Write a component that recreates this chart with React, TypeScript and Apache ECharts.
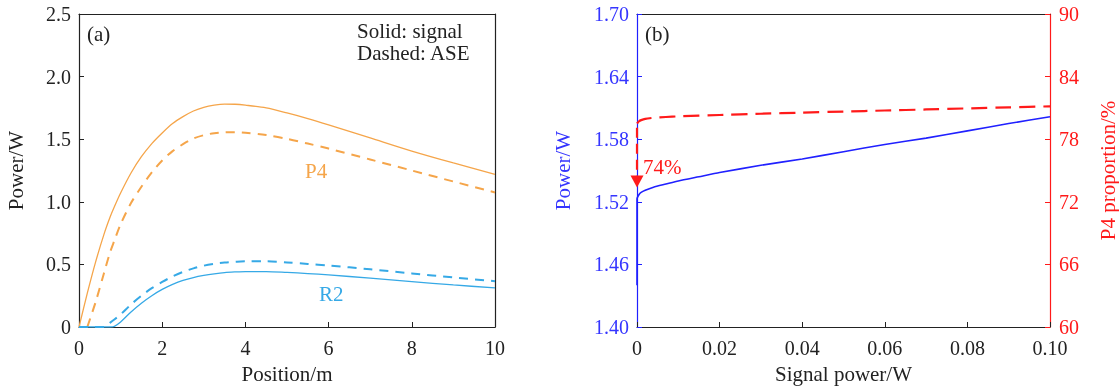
import React, { useEffect, useRef } from "react";
import * as echarts from "echarts";

// ---- Panel (a): power along fiber position ----
const positions = [0, 0.2, 0.4, 0.6, 0.75, 0.85, 1, 1.25, 1.5, 1.75, 2, 2.25, 2.5, 2.75, 3, 3.25, 3.5, 3.75, 4, 4.5, 5, 5.5, 6, 7, 8, 9, 10];
const p4Signal = [0, 0.27, 0.52, 0.74, 0.88, 0.96, 1.07, 1.23, 1.36, 1.465, 1.55, 1.625, 1.68, 1.725, 1.755, 1.772, 1.78, 1.779, 1.772, 1.75, 1.71, 1.665, 1.615, 1.51, 1.405, 1.31, 1.22];
const p4ASE = [null, 0, 0.2, 0.43, 0.6, 0.69, 0.82, 0.99, 1.12, 1.235, 1.33, 1.405, 1.46, 1.505, 1.532, 1.548, 1.555, 1.556, 1.551, 1.533, 1.503, 1.465, 1.425, 1.338, 1.25, 1.162, 1.075];
const r2Signal = [0, 0, 0, 0, 0, 0.005, 0.04, 0.12, 0.19, 0.25, 0.3, 0.34, 0.372, 0.395, 0.412, 0.425, 0.435, 0.44, 0.443, 0.443, 0.436, 0.427, 0.416, 0.39, 0.362, 0.336, 0.312];
const r2ASE = [0, 0, 0, 0, 0.035, 0.06, 0.1, 0.18, 0.25, 0.31, 0.36, 0.404, 0.44, 0.468, 0.49, 0.505, 0.515, 0.521, 0.525, 0.525, 0.516, 0.504, 0.491, 0.461, 0.428, 0.396, 0.366];

// ---- Panel (b): vs signal power ----
const sigPowerB = [0, 0, 0.0005, 0.001, 0.002, 0.004, 0.007, 0.01, 0.015, 0.02, 0.03, 0.04, 0.05, 0.06, 0.07, 0.08, 0.09, 0.1];
const outPower = [1.44, 1.523, 1.527, 1.529, 1.531, 1.534, 1.537, 1.54, 1.544, 1.548, 1.555, 1.561, 1.568, 1.575, 1.581, 1.588, 1.595, 1.6015];
const sigPowerProp = [0, 0.0005, 0.001, 0.002, 0.004, 0.007, 0.01, 0.02, 0.03, 0.04, 0.05, 0.06, 0.07, 0.08, 0.09, 0.1];
const p4Proportion = [79.5, 79.72, 79.83, 79.95, 80.05, 80.13, 80.19, 80.32, 80.44, 80.55, 80.65, 80.75, 80.85, 80.95, 81.05, 81.15];
const arrowFrom = 79.1;
const arrowTo = 73.95;
const powerAxisMin = 1.4;

const FONT = "Liberation Serif";
const FS = 21;
const TFS = 20;
const ORANGE = "#f5a54a";
const LBLUE = "#36a9e6";
const BLUE = "#2020ff";
const BLUE_TXT = "#3535ff";
const RED = "#ff1a1a";
const BLACK = "#222";

export default function App() {
  const ref = useRef<HTMLDivElement>(null);
  useEffect(() => {
    if (!ref.current) return;
    const chart = echarts.init(ref.current, null, { renderer: "svg" });
    const pairs = (xs: number[], ys: (number | null)[]) =>
      xs.map((x, i) => [x, ys[i]]).filter((p) => p[1] !== null);

    const baseAxis = (color: string, txt?: string, margin = 8) => ({
      axisLine: { show: true, onZero: false, lineStyle: { color, width: 1.2 } },
      axisTick: { show: true, inside: true, length: 5, lineStyle: { color } },
      splitLine: { show: false },
      axisLabel: { color: txt || color, fontSize: TFS, fontFamily: FONT, margin },
      nameTextStyle: { color: txt || color, fontSize: FS, fontFamily: FONT },
    });
    const frameAxis = {
      axisLine: { show: true, onZero: false, lineStyle: { color: BLACK, width: 1.2 } },
      axisTick: { show: false },
      axisLabel: { show: false },
      splitLine: { show: false },
    };
    const lineSmooth = { smooth: 0.3, showSymbol: false };

    chart.setOption({
      animation: false,
      textStyle: { fontFamily: FONT },
      grid: [
        { left: 79, top: 14, width: 416, height: 318 },
        { left: 637, top: 14, width: 415, height: 318 },
      ],
      xAxis: [
        {
          type: "value", gridIndex: 0, min: 0, max: 10, interval: 2, position: "bottom",
          ...baseAxis(BLACK, BLACK, 11), name: "Position/m", nameLocation: "middle", nameGap: 36,
        },
        { type: "value", gridIndex: 0, min: 0, max: 10, position: "top", ...frameAxis },
        {
          type: "value", gridIndex: 1, min: 0, max: 0.1, interval: 0.02, position: "bottom",
          ...baseAxis(BLACK, BLACK, 11),
          axisLabel: { ...baseAxis(BLACK, BLACK, 11).axisLabel, formatter: (v: number) => (v === 0 ? "0" : v.toFixed(2)) },
          name: "Signal power/W", nameLocation: "middle", nameGap: 36,
        },
        { type: "value", gridIndex: 1, min: 0, max: 0.1, position: "top", ...frameAxis },
      ],
      yAxis: [
        {
          type: "value", gridIndex: 0, min: 0, max: 2.5, interval: 0.5, position: "left",
          ...baseAxis(BLACK),
          axisLabel: { ...baseAxis(BLACK).axisLabel, formatter: (v: number) => (v === 0 ? "0" : v.toFixed(1)) },
          name: "Power/W", nameLocation: "middle", nameGap: 53,
        },
        { type: "value", gridIndex: 0, min: 0, max: 2.5, position: "right", ...frameAxis },
        {
          type: "value", gridIndex: 1, min: 0, max: 0.3, interval: 0.06, position: "left",
          ...baseAxis(BLUE, BLUE_TXT),
          axisLabel: { ...baseAxis(BLUE, BLUE_TXT).axisLabel, formatter: (v: number) => (v + powerAxisMin).toFixed(2) },
          name: "Power/W", nameLocation: "middle", nameGap: 64,
        },
        {
          type: "value", gridIndex: 1, min: 60, max: 90, interval: 6, position: "right",
          ...baseAxis(RED, RED, 9),
          name: "P4 proportion/%", nameLocation: "middle", nameGap: 47,
        },
      ],
      series: [
        {
          type: "line", xAxisIndex: 0, yAxisIndex: 0, data: pairs(positions, p4Signal), ...lineSmooth,
          lineStyle: { color: ORANGE, width: 1.3 },
        },
        {
          type: "line", xAxisIndex: 0, yAxisIndex: 0, data: pairs(positions, p4ASE), ...lineSmooth,
          lineStyle: { color: ORANGE, width: 2, type: [9, 7] },
        },
        {
          type: "line", xAxisIndex: 0, yAxisIndex: 0, data: pairs(positions, r2Signal), ...lineSmooth,
          lineStyle: { color: LBLUE, width: 1.3 },
        },
        {
          type: "line", xAxisIndex: 0, yAxisIndex: 0, data: pairs(positions, r2ASE), ...lineSmooth,
          lineStyle: { color: LBLUE, width: 2, type: [9, 7] },
        },
        {
          type: "line", xAxisIndex: 2, yAxisIndex: 2,
          data: sigPowerB.map((x, i) => [x, outPower[i] - powerAxisMin]), smooth: 0.2,
          showSymbol: false, lineStyle: { color: BLUE, width: 1.6 },
        },
        {
          type: "line", xAxisIndex: 2, yAxisIndex: 3, data: pairs(sigPowerProp, p4Proportion), smooth: 0.2,
          showSymbol: false, lineStyle: { color: RED, width: 2.2, type: [16, 8] },
        },
        {
          type: "line", xAxisIndex: 2, yAxisIndex: 3,
          data: [
            { value: [0, arrowFrom], symbol: "none" },
            { value: [0, arrowTo], symbol: "triangle", symbolSize: [13, 12], symbolRotate: 180 },
          ],
          showAllSymbol: true,
          itemStyle: { color: RED },
          lineStyle: { color: RED, width: 2.2, type: [10, 6] },
        },
      ],
      graphic: [
        { type: "text", x: 87, y: 23, style: { text: "(a)", font: `${FS}px '${FONT}'`, fill: BLACK } },
        { type: "text", x: 357, y: 20, style: { text: "Solid: signal", font: `${FS}px '${FONT}'`, fill: BLACK } },
        { type: "text", x: 357, y: 42, style: { text: "Dashed: ASE", font: `${FS}px '${FONT}'`, fill: BLACK } },
        { type: "text", x: 305, y: 160, style: { text: "P4", font: `${FS}px '${FONT}'`, fill: ORANGE } },
        { type: "text", x: 319, y: 283, style: { text: "R2", font: `${FS}px '${FONT}'`, fill: LBLUE } },
        { type: "text", x: 645, y: 23, style: { text: "(b)", font: `${FS}px '${FONT}'`, fill: BLACK } },
        { type: "text", x: 643, y: 156, style: { text: "74%", font: `${FS}px '${FONT}'`, fill: RED } },
      ],
    });
    return () => chart.dispose();
  }, []);
  return <div ref={ref} style={{ position: "fixed", left: 0, top: 0, width: 1119, height: 389 }} />;
}
